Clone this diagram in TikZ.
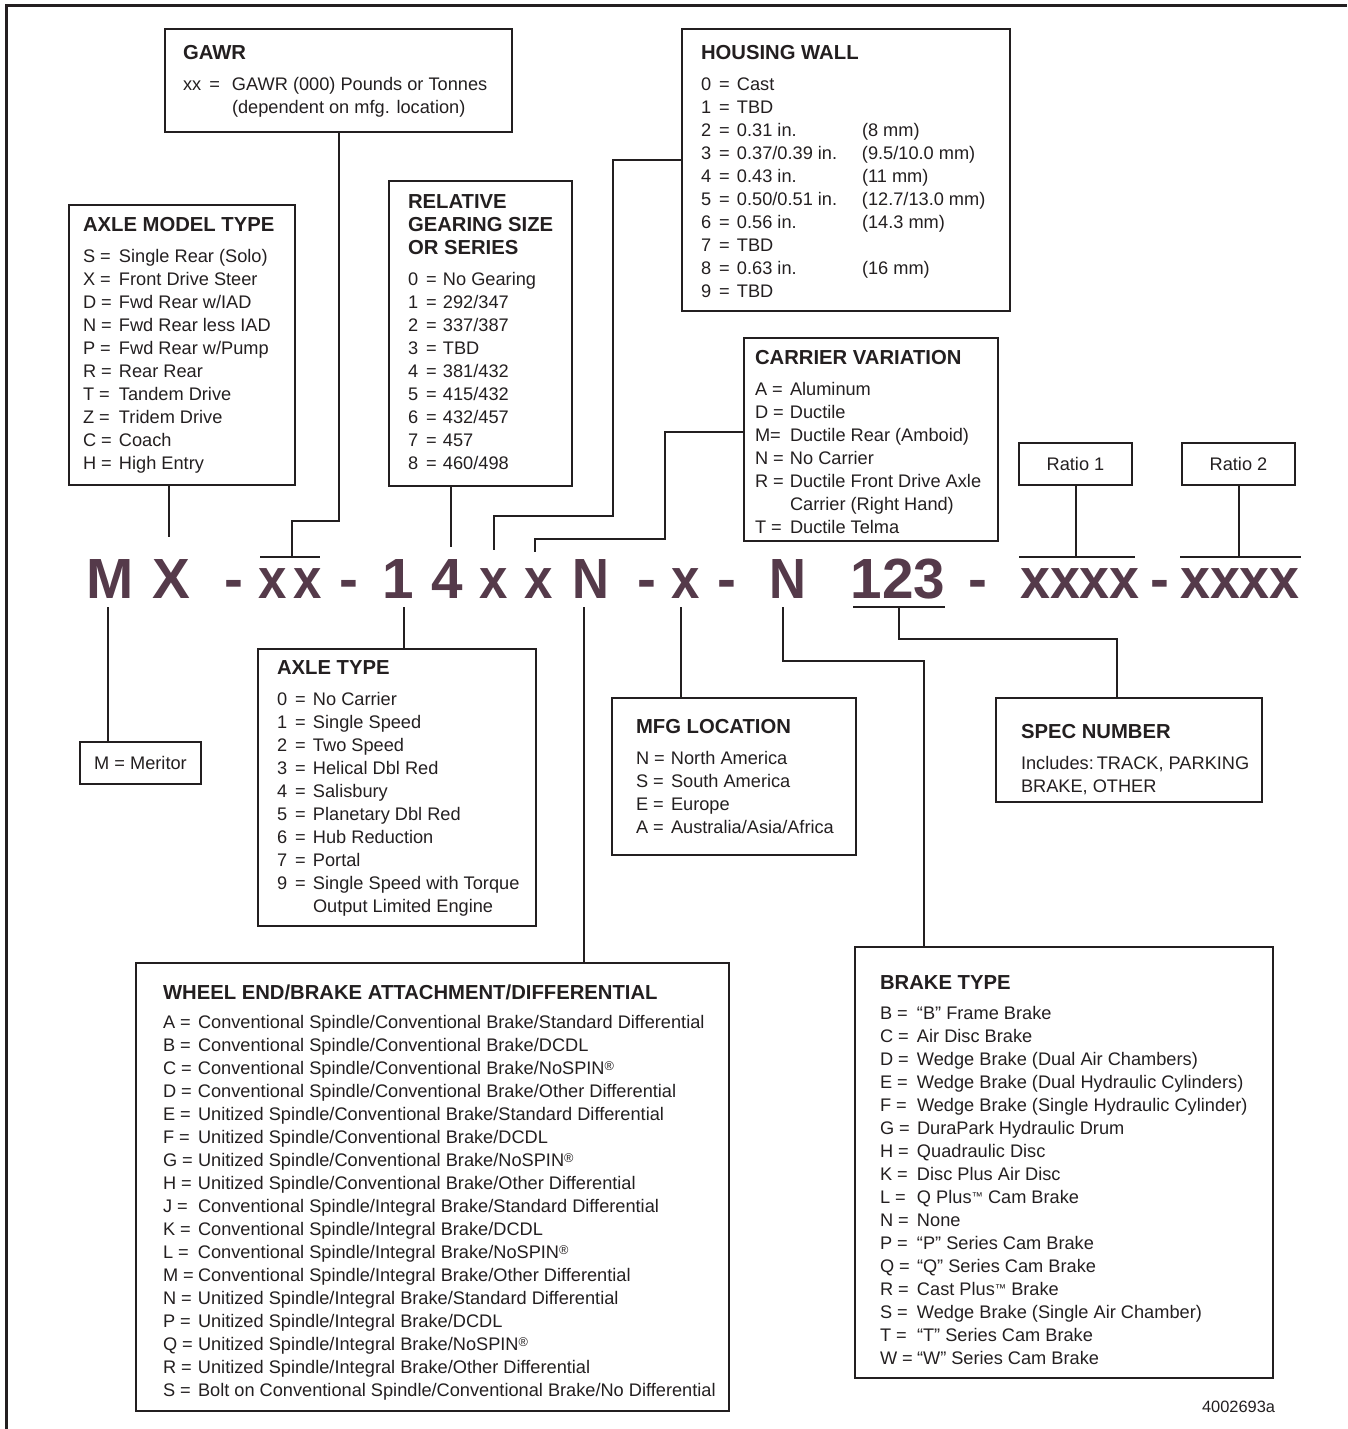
\documentclass[tikz,border=0pt]{standalone}
\usepackage{fontspec}
\setmainfont{Liberation Sans}
\usepackage{graphicx}
\usetikzlibrary{fit,calc}
\definecolor{codecol}{RGB}{85,58,74}
\definecolor{ink}{RGB}{35,31,32}
\newcommand\ttl[1]{{\fontsize{15.2}{17.25}\selectfont\bfseries #1}}
\newcommand\rg{\raisebox{3pt}{\fontsize{9.5}{9.5}\selectfont ®}}
\newcommand\tm{\raisebox{2.6pt}{\fontsize{8.5}{8.5}\selectfont ™}}
\newcommand\dk[1]{#1\ \,=}
\newcommand\mkbox[5]{\coordinate (#1-a) at (#2,#3); \coordinate (#1-b) at (#4,#5); \node[box, fit=(#1-a)(#1-b)] (#1) {};}
\newcommand\cx{\scalebox{0.9}[1]{x}}
\newcommand\cN{\scalebox{0.9}[1]{N}}
\begin{document}
\begin{tikzpicture}[x=0.75pt,y=-0.75pt,
  box/.style={draw=ink, line width=1.5pt, inner sep=0pt, outer sep=0pt},
  conn/.style={draw=ink, line width=1.5pt},
  txt/.style={inner sep=0pt, outer sep=0pt, text=ink, font=\fontsize{13.65}{17.25}\selectfont},
  code/.style={inner sep=0pt, outer sep=0pt, text=codecol, font=\fontsize{42.5}{42.5}\selectfont\bfseries, anchor=base}]
\useasboundingbox (0,0) rectangle (1347,1429);
% outer frame (top and left)
\draw[ink, line width=2.25pt] (6,1429) -- (6,5) -- (1347,5);

% boxes
\mkbox{gawr}{165}{29}{512}{132}
\mkbox{amt}{69}{205}{295}{485}
\mkbox{gear}{389}{181}{572}{486}
\mkbox{hw}{682}{29}{1010}{311}
\mkbox{cv}{744}{338}{998}{541}
\mkbox{mer}{80}{742}{201}{784}
\mkbox{axt}{258}{649}{536}{926}
\mkbox{mfg}{612}{698}{856}{855}
\mkbox{spec}{996}{698}{1262}{802}
\mkbox{we}{136}{963}{729}{1411}
\mkbox{bt}{855}{947}{1273}{1378}
\mkbox{r1}{1019}{443}{1132}{485}
\mkbox{r2}{1182}{443}{1295}{485}
\node[txt] (r1-t) at (r1.center) {Ratio 1};
\node[txt] (r2-t) at (r2.center) {Ratio 2};

% box texts
\node[txt, anchor=base west] (gawr-t) at (183,59) {\begin{tabular}[t]{@{}p{36.75pt}@{}l@{}}
\multicolumn{2}{@{}l@{}}{\ttl{GAWR}}\\[6pt]
xx\ \,=& GAWR (000) Pounds or Tonnes\\
& (dependent on mfg. location)
\end{tabular}};

\node[txt, anchor=base west] (amt-t) at (83,231) {\begin{tabular}[t]{@{}p{27pt}@{}l@{}}
\multicolumn{2}{@{}l@{}}{\ttl{AXLE MODEL TYPE}}\\[6.4pt]
S =& Single Rear (Solo)\\
X =& Front Drive Steer\\
D =& Fwd Rear w/IAD\\
N =& Fwd Rear less IAD\\
P =& Fwd Rear w/Pump\\
R =& Rear Rear\\
T =& Tandem Drive\\
Z =& Tridem Drive\\
C =& Coach\\
H =& High Entry
\end{tabular}};

\node[txt, anchor=base west] (gear-t) at (408,208) {\begin{tabular}[t]{@{}p{26.25pt}@{}l@{}}
\multicolumn{2}{@{}l@{}}{\ttl{RELATIVE}}\\
\multicolumn{2}{@{}l@{}}{\ttl{GEARING SIZE}}\\
\multicolumn{2}{@{}l@{}}{\ttl{OR SERIES}}\\[6pt]
\dk0& No Gearing\\
\dk1& 292/347\\
\dk2& 337/387\\
\dk3& TBD\\
\dk4& 381/432\\
\dk5& 415/432\\
\dk6& 432/457\\
\dk7& 457\\
\dk8& 460/498
\end{tabular}};

\node[txt, anchor=base west] (hw-t) at (701,59) {\begin{tabular}[t]{@{}p{27pt}@{}p{93.75pt}@{}l@{}}
\multicolumn{3}{@{}l@{}}{\ttl{HOUSING WALL}}\\[6.4pt]
\dk0& Cast &\\
\dk1& TBD &\\
\dk2& 0.31 in. & (8 mm)\\
\dk3& 0.37/0.39 in. & (9.5/10.0 mm)\\
\dk4& 0.43 in. & (11 mm)\\
\dk5& 0.50/0.51 in. & (12.7/13.0 mm)\\
\dk6& 0.56 in. & (14.3 mm)\\
\dk7& TBD &\\
\dk8& 0.63 in. & (16 mm)\\
\dk9& TBD &
\end{tabular}};

\node[txt, anchor=base west] (cv-t) at (755,364) {\begin{tabular}[t]{@{}p{26.25pt}@{}l@{}}
\multicolumn{2}{@{}l@{}}{\ttl{CARRIER VARIATION}}\\[6.4pt]
A =& Aluminum\\
D =& Ductile\\
M=& Ductile Rear (Amboid)\\
N =& No Carrier\\
R =& Ductile Front Drive Axle\\
& Carrier (Right Hand)\\
T =& Ductile Telma
\end{tabular}};

\node[txt, anchor=base west] (axt-t) at (277,674) {\begin{tabular}[t]{@{}p{27pt}@{}l@{}}
\multicolumn{2}{@{}l@{}}{\ttl{AXLE TYPE}}\\[6pt]
\dk0& No Carrier\\
\dk1& Single Speed\\
\dk2& Two Speed\\
\dk3& Helical Dbl Red\\
\dk4& Salisbury\\
\dk5& Planetary Dbl Red\\
\dk6& Hub Reduction\\
\dk7& Portal\\
\dk9& Single Speed with Torque\\
& Output Limited Engine
\end{tabular}};

\node[txt] (mer-t) at (mer) {M = Meritor};

\node[txt, anchor=base west] (mfg-t) at (636,733) {\begin{tabular}[t]{@{}p{26.25pt}@{}l@{}}
\multicolumn{2}{@{}l@{}}{\ttl{MFG LOCATION}}\\[6pt]
N =& North America\\
S =& South America\\
E =& Europe\\
A =& Australia/Asia/Africa
\end{tabular}};

\node[txt, anchor=base west] (spec-t) at (1021,738) {\begin{tabular}[t]{@{}l@{}}
\ttl{SPEC NUMBER}\\[6pt]
Includes:\,TRACK, PARKING\\
BRAKE, OTHER
\end{tabular}};

\node[txt, anchor=base west] (we-t) at (163,999) {\begin{tabular}[t]{@{}p{26.25pt}@{}l@{}}
\multicolumn{2}{@{}l@{}}{\ttl{WHEEL END/BRAKE ATTACHMENT/DIFFERENTIAL}}\\[5pt]
A =& Conventional Spindle/Conventional Brake/Standard Differential\\
B =& Conventional Spindle/Conventional Brake/DCDL\\
C =& Conventional Spindle/Conventional Brake/NoSPIN\rg\\
D =& Conventional Spindle/Conventional Brake/Other Differential\\
E =& Unitized Spindle/Conventional Brake/Standard Differential\\
F =& Unitized Spindle/Conventional Brake/DCDL\\
G =& Unitized Spindle/Conventional Brake/NoSPIN\rg\\
H =& Unitized Spindle/Conventional Brake/Other Differential\\
J =& Conventional Spindle/Integral Brake/Standard Differential\\
K =& Conventional Spindle/Integral Brake/DCDL\\
L =& Conventional Spindle/Integral Brake/NoSPIN\rg\\
M =& Conventional Spindle/Integral Brake/Other Differential\\
N =& Unitized Spindle/Integral Brake/Standard Differential\\
P =& Unitized Spindle/Integral Brake/DCDL\\
Q =& Unitized Spindle/Integral Brake/NoSPIN\rg\\
R =& Unitized Spindle/Integral Brake/Other Differential\\
S =& Bolt on Conventional Spindle/Conventional Brake/No Differential
\end{tabular}};

\node[txt, anchor=base west] (bt-t) at (880,989) {\begin{tabular}[t]{@{}p{27.75pt}@{}l@{}}
\multicolumn{2}{@{}l@{}}{\ttl{BRAKE TYPE}}\\[5.6pt]
B =& “B” Frame Brake\\
C =& Air Disc Brake\\
D =& Wedge Brake (Dual Air Chambers)\\
E =& Wedge Brake (Dual Hydraulic Cylinders)\\
F =& Wedge Brake (Single Hydraulic Cylinder)\\
G =& DuraPark Hydraulic Drum\\
H =& Quadraulic Disc\\
K =& Disc Plus Air Disc\\
L =& Q Plus\tm{} Cam Brake\\
N =& None\\
P =& “P” Series Cam Brake\\
Q =& “Q” Series Cam Brake\\
R =& Cast Plus\tm{} Brake\\
S =& Wedge Brake (Single Air Chamber)\\
T =& “T” Series Cam Brake\\
W =& “W” Series Cam Brake
\end{tabular}};

\node[txt, anchor=base east, font=\fontsize{12.3}{14}\selectfont] (fig) at (1275,1412) {4002693a};

% code line
\node[code] (cM) at (110,598) {M};
\node[code] (cX) at (171,598) {X};
\node[code] (d1) at (234,598) {-};
\node[code] (cxa) at (273,598) {\cx};
\node[code] (cxb) at (308,598) {\cx};
\node[code] (d2) at (348.5,598) {-};
\node[code] (c1) at (398,598) {1};
\node[code] (c4) at (447.5,598) {4};
\node[code] (cxc) at (493.5,598) {\cx};
\node[code] (cxd) at (538.5,598) {\cx};
\node[code] (cNa) at (591,598) {\cN};
\node[code] (d3) at (647,598) {-};
\node[code] (cxe) at (686,598) {\cx};
\node[code] (d4) at (727,598) {-};
\node[code] (cNb) at (788,598) {\cN};
\node[code] (c123) at (898,598) {123};
\node[code] (d5) at (978,598) {-};
\node[code] (cr1) at (1080,598) {\scalebox{0.95}[1]{xxxx}};
\node[code] (d6) at (1160,598) {-};
\node[code] (cr2) at (1240,598) {\scalebox{0.95}[1]{xxxx}};

% connectors
\coordinate (ulxx-l) at (260,557); \coordinate (ulxx-r) at (320,557); \coordinate (ulxx) at (292,557);
\draw[conn] (ulxx-l) -- (ulxx-r);
\coordinate (k-gawr) at (292,521);
\draw[conn] (gawr.south) |- (k-gawr) -- (ulxx);

\coordinate (tX) at (169,537);
\draw[conn] (amt.south -| tX) -- (tX);

\coordinate (bM) at (108,607);
\draw[conn] (bM) -- (bM |- mer.north);

\coordinate (b1) at (404,607);
\draw[conn] (b1) -- (b1 |- axt.north);

\coordinate (t4) at (451,547);
\draw[conn] (gear.south -| t4) -- (t4);

\coordinate (k-hw1) at (613,160); \coordinate (k-hw2) at (494,516); \coordinate (tx1) at (494,550);
\draw[conn] (hw.west |- k-hw1) -- (k-hw1) |- (k-hw2) -- (tx1);

\coordinate (k-cv1) at (665,432); \coordinate (k-cv2) at (535,539); \coordinate (tx2) at (535,552);
\draw[conn] (cv.west |- k-cv1) -- (k-cv1) |- (k-cv2) -- (tx2);

\coordinate (bN) at (584,607);
\draw[conn] (bN) -- (bN |- we.north);

\coordinate (bx3) at (681,607);
\draw[conn] (bx3) -- (bx3 |- mfg.north);

\coordinate (bN2) at (783,607); \coordinate (k-bt) at (924,661);
\draw[conn] (bN2) |- (k-bt) -- (k-bt |- bt.north);

\coordinate (u123-l) at (853,607); \coordinate (u123-r) at (945,607); \coordinate (u123) at (899,607);
\draw[conn] (u123-l) -- (u123-r);
\coordinate (k-sp) at (1117,639);
\draw[conn] (u123) |- (k-sp) -- (k-sp |- spec.north);

\coordinate (ur1-l) at (1019,557); \coordinate (ur1-r) at (1135,557);
\draw[conn] (ur1-l) -- (ur1-r);
\draw[conn] (r1.south) -- (r1.south |- ur1-l);
\coordinate (ur2-l) at (1180,557); \coordinate (ur2-r) at (1301,557);
\draw[conn] (ur2-l) -- (ur2-r);
\draw[conn] (r2.south) -- (r2.south |- ur2-l);
\end{tikzpicture}
\end{document}
